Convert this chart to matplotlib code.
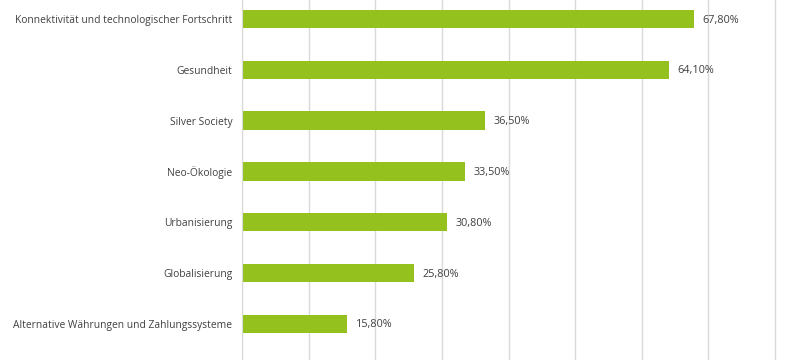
import matplotlib
matplotlib.use('Agg')
import matplotlib.pyplot as plt

categories = ['Konnektivität und technologischer Fortschritt', 'Gesundheit', 'Silver Society',
              'Neo-Ökologie', 'Urbanisierung', 'Globalisierung',
              'Alternative Währungen und Zahlungssysteme']
values = [67.8, 64.1, 36.5, 33.5, 30.8, 25.8, 15.8]
labels = ['67,80%', '64,10%', '36,50%', '33,50%', '30,80%', '25,80%', '15,80%']

plt.rcParams['font.family'] = ['Open Sans', 'DejaVu Sans']

fig = plt.figure(figsize=(8.01, 3.6), dpi=100)
ax = fig.add_axes([242 / 801, 0, 1 - 242 / 801, 1])

pos = list(range(len(categories)))
ax.barh(pos, values, height=0.36, color='#95c11f', zorder=3)
for p, v, lab in zip(pos, values, labels):
    ax.text(v + 1.3, p + 0.02, lab, va='center', ha='left', fontsize=7.8, color='#404040')

ax.set_xlim(0, 83.9)
ax.set_ylim(6.713, -0.374)
ax.set_xticks(range(0, 81, 10))
ax.set_xticklabels([])
ax.tick_params(axis='x', length=0)
ax.set_yticks(pos)
ax.set_yticklabels(categories, fontsize=7.35, color='#404040')
ax.tick_params(axis='y', length=0, pad=7)
ax.grid(axis='x', color='#d9d9d9', linewidth=1, zorder=0)
for s in ['top', 'right', 'bottom']:
    ax.spines[s].set_visible(False)
ax.spines['left'].set_color('#d9d9d9')
ax.spines['left'].set_zorder(4)

fig.savefig('out.png', dpi=100)
